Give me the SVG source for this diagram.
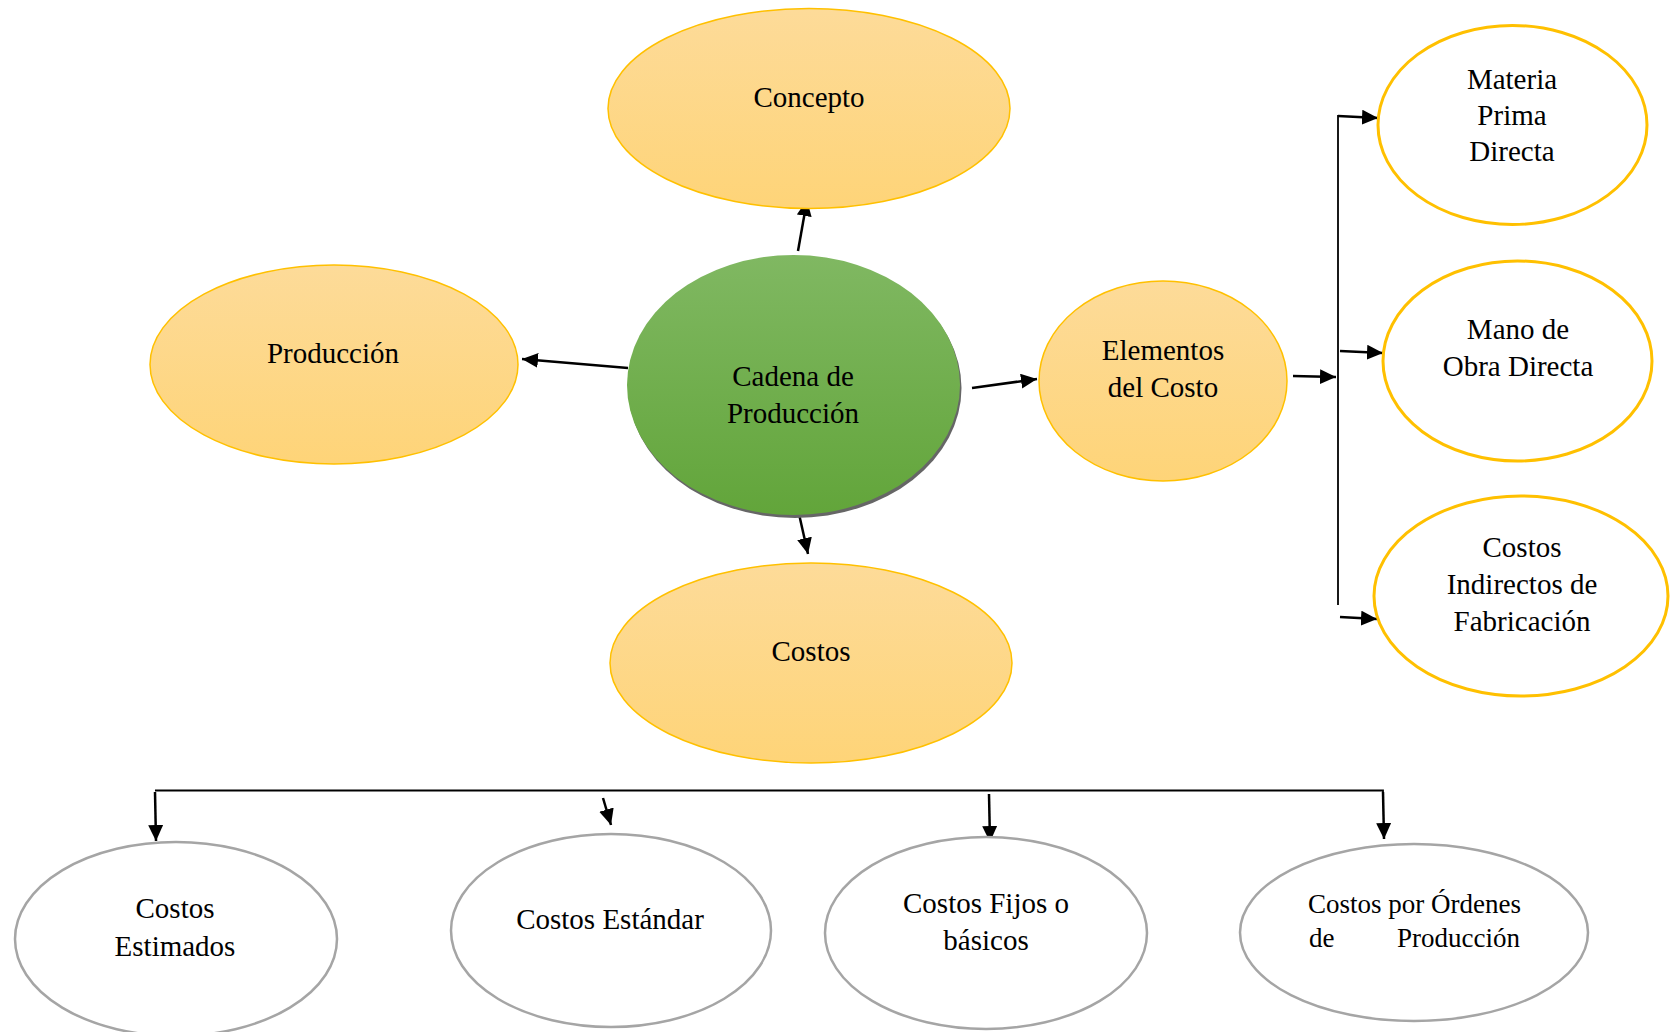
<svg xmlns="http://www.w3.org/2000/svg" width="1670" height="1032" viewBox="0 0 1670 1032">
  <style>
    .lbl { font-family: "Liberation Serif", "Times New Roman", serif; font-size: 29px; fill: #000; text-anchor: middle; }
    .sm { font-size: 27px; }
    .gold { fill: url(#goldFill); stroke: #FFC000; stroke-width: 1.5; }
    .ring { fill: #fff; stroke: #FFC000; stroke-width: 3; }
    .grey { fill: #fff; stroke: #A5A5A5; stroke-width: 2.5; }
    .arrow { fill: none; stroke: #000; stroke-width: 2.5; marker-end: url(#head); }
    .rail { fill: none; stroke: #000; stroke-width: 1.8; }
  </style>
  <defs>
    <linearGradient id="goldFill" x1="0" y1="0" x2="0" y2="1">
      <stop offset="0" stop-color="#FDDB99"/>
      <stop offset="1" stop-color="#FED478"/>
    </linearGradient>
    <linearGradient id="greenFill" x1="0" y1="0" x2="0" y2="1">
      <stop offset="0" stop-color="#80B862"/>
      <stop offset="1" stop-color="#62A53A"/>
    </linearGradient>
    <marker id="head" markerUnits="userSpaceOnUse" markerWidth="17" markerHeight="15" refX="16" refY="7.5" orient="auto">
      <path d="M0,0 L16,7.5 L0,15 z" fill="#000"/>
    </marker>
  </defs>

  <rect width="1670" height="1032" fill="#fff"/>

  <!-- connectors -->
  <g id="connectors">
    <line class="arrow" x1="798" y1="251" x2="807" y2="200"/>
    <line class="arrow" x1="628" y1="368" x2="522" y2="359"/>
    <line class="arrow" x1="972" y1="388" x2="1037" y2="379"/>
    <line class="arrow" x1="799" y1="514" x2="808" y2="554"/>
    <line class="arrow" x1="1293" y1="376" x2="1336" y2="377"/>
    <!-- bracket to cost elements -->
    <line class="rail" x1="1338" y1="115" x2="1338" y2="605"/>
    <line class="arrow" x1="1338" y1="116" x2="1378" y2="118"/>
    <line class="arrow" x1="1340" y1="351" x2="1383" y2="353"/>
    <line class="arrow" x1="1340" y1="617" x2="1377" y2="619"/>
    <!-- cost types rail -->
    <polyline class="rail" points="155,790.5 1383,790.5 1383,798"/>
    <line class="arrow" x1="155" y1="792" x2="156" y2="841"/>
    <line class="arrow" x1="603" y1="798" x2="611" y2="825"/>
    <line class="arrow" x1="989" y1="794" x2="990" y2="842"/>
    <line class="arrow" x1="1383" y1="792" x2="1384" y2="839"/>
  </g>

  <g id="concepto">
    <ellipse class="gold" cx="809" cy="108.5" rx="201" ry="100"/>
    <text class="lbl" x="809" y="107">Concepto</text>
  </g>

  <g id="produccion">
    <ellipse class="gold" cx="334" cy="364.5" rx="184" ry="99.5"/>
    <text class="lbl" x="333" y="363">Producción</text>
  </g>

  <g id="cadena">
    <ellipse cx="795" cy="388" rx="166.5" ry="130" fill="#666"/>
    <ellipse cx="793.5" cy="385" rx="166.5" ry="130" fill="url(#greenFill)"/>
    <text class="lbl" x="793" y="386">Cadena de</text>
    <text class="lbl" x="793" y="423">Producción</text>
  </g>

  <g id="costos">
    <ellipse class="gold" cx="811" cy="663" rx="201" ry="100"/>
    <text class="lbl" x="811" y="661">Costos</text>
  </g>

  <g id="elementos">
    <ellipse class="gold" cx="1163" cy="381" rx="124" ry="100"/>
    <text class="lbl" x="1163" y="360">Elementos</text>
    <text class="lbl" x="1163" y="397">del Costo</text>
  </g>

  <g id="materia-prima">
    <ellipse class="ring" cx="1512.5" cy="125" rx="134.5" ry="99.5"/>
    <text class="lbl" x="1512" y="89">Materia</text>
    <text class="lbl" x="1512" y="125">Prima</text>
    <text class="lbl" x="1512" y="161">Directa</text>
  </g>

  <g id="mano-obra">
    <ellipse class="ring" cx="1517.5" cy="361" rx="134.5" ry="100"/>
    <text class="lbl" x="1518" y="339">Mano de</text>
    <text class="lbl" x="1518" y="376">Obra Directa</text>
  </g>

  <g id="cif">
    <ellipse class="ring" cx="1521" cy="596" rx="147" ry="100"/>
    <text class="lbl" x="1522" y="557">Costos</text>
    <text class="lbl" x="1522" y="594">Indirectos de</text>
    <text class="lbl" x="1522" y="631">Fabricación</text>
  </g>

  <g id="estimados">
    <ellipse class="grey" cx="176" cy="939" rx="161" ry="97"/>
    <text class="lbl" x="175" y="918">Costos</text>
    <text class="lbl" x="175" y="956">Estimados</text>
  </g>

  <g id="estandar">
    <ellipse class="grey" cx="611" cy="930.5" rx="160" ry="96.5"/>
    <text class="lbl" x="610" y="929">Costos Estándar</text>
  </g>

  <g id="fijos">
    <ellipse class="grey" cx="986" cy="933" rx="161" ry="96"/>
    <text class="lbl" x="986" y="913">Costos Fijos o</text>
    <text class="lbl" x="986" y="950">básicos</text>
  </g>

  <g id="ordenes">
    <ellipse class="grey" cx="1414" cy="932.5" rx="174" ry="88.5"/>
    <text class="lbl sm" x="1414.5" y="913">Costos por Órdenes</text>
    <text class="lbl sm" x="1309" y="947" style="text-anchor:start">de</text>
    <text class="lbl sm" x="1520" y="947" style="text-anchor:end">Producción</text>
  </g>
</svg>
